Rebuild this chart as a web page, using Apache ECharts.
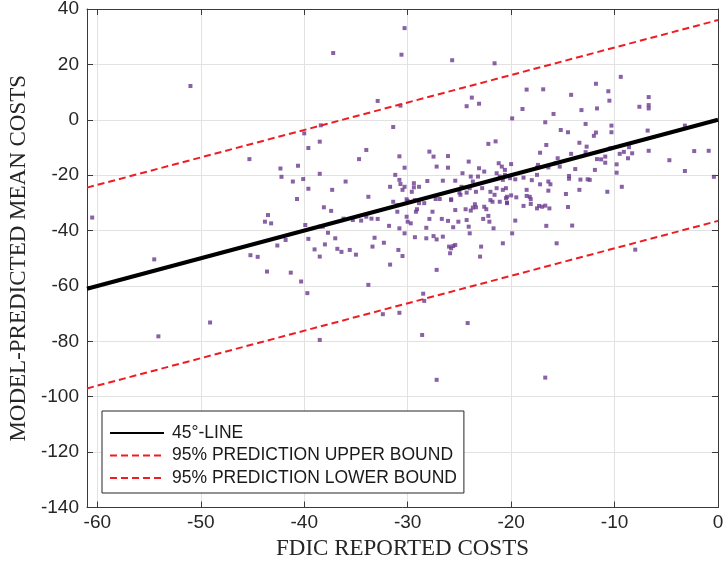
<!DOCTYPE html>
<html><head><meta charset="utf-8">
<script src="https://cdn.jsdelivr.net/npm/echarts@6/dist/echarts.min.js"></script>
<style>html,body{margin:0;padding:0;background:#fff}#c{width:725px;height:564px}</style>
</head><body><div id="c"></div>
<script>
// FDIC reported costs (x) and model-predicted mean costs (y)
const reportedCosts = [
-51.0,-45.3,-42.3,-42.2,-41.1,-40.6,-40.7,
-30.3,-37.2,-30.6,-25.7,-21.6,-32.9,-30.7,-24.3,-23.8,-23.1,-31.4,-38.4,-40.0,-39.6,-38.5,-40.1,-39.6,-38.5,-37.3,-36.0,-34.7,-34.0,-33.8,
-30.8,-30.3,-31.2,-30.8,-30.7,-30.3,-31.7,-30.1,-29.4,-29.4,-28.9,-28.1,-27.9,-27.5,-27.2,-26.1,-26.1,-26.6,-25.4,-24.1,-24.7,-24.8,-25.0,-25.8,
-23.9,-23.7,-23.1,-23.2,-22.6,-24.0,-24.3,-23.4,-22.8,-22.2,-21.5,-21.2,-20.9,-21.4,-20.8,-22.0,-21.6,-20.5,
-9.4,-11.8,-10.6,-10.5,-18.5,-16.9,-14.2,-18.9,-13.2,-11.7,-15.9,-7.6,-6.7,-6.7,-6.7,-19.9,-16.7,-12.8,-15.2,-14.5,-10.3,-10.3,-11.8,-12.0,
-6.8,-3.2,-16.6,-17.2,-13.4,-12.7,-12.8,-14.2,-15.5,-15.7,-11.7,-11.3,-10.9,-10.9,-10.4,-9.5,-9.1,-8.6,-8.3,-8.7,-6.7,-4.7,-2.3,-0.9,-3.2,-0.4,
-9.8,-9.8,-9.3,-10.7,-11.9,-13.8,-15.3,-16.4,-17.4,-17.5,-17.5,-14.4,-14.4,-13.3,-12.6,-12.4,-18.0,-17.2,-16.4,-16.2,-18.8,-20.0,
-20.6,-21.1,-20.6,-20.1,-19.6,-20.8,-18.5,-16.4,-14.7,-13.4,-20.0,-19.5,-18.2,
-60.5,-54.5,-54.1,-49.1,-45.2,-44.5,-43.8,-43.5,-43.2,-42.6,-41.8,-43.6,-41.3,
-38.1,-37.4,-39.9,-38.5,-38.2,-39.6,-37.7,-37.0,-38.0,-39.0,-38.5,-36.8,-36.4,-35.6,-35.0,-36.2,-35.3,-34.5,-34.0,-33.5,-32.9,-33.2,-33.4,-32.3,
-31.8,-31.4,-31.0,-31.0,-30.8,-30.3,-30.1,-30.0,-30.0,-29.7,-30.5,-29.3,-29.2,-29.1,-28.9,-28.4,-28.2,-28.2,-27.9,-27.6,-27.5,-27.2,-27.3,-26.9,
-26.6,-26.7,-26.1,-25.8,-25.6,-26.0,-25.8,-25.6,-25.9,-25.4,-25.4,-25.1,-24.9,-24.4,-24.3,-24.1,-24.0,-23.9,-23.7,-23.5,-23.4,-22.9,-23.0,
-22.7,-22.6,-22.4,-22.2,-22.1,-22.0,-21.8,-21.7,-21.4,-21.1,-20.8,-20.5,-20.4,-29.6,-29.3,-30.5,
-40.3,-39.7,-38.5,-33.8,-32.4,-30.8,-31.7,-30.9,-28.5,-28.4,-28.6,-27.2,-27.2,-24.2,
-19.9,-19.6,-16.6,-15.6,-14.1,-14.5,-18.8,-18.1,-18.1,-17.5,-17.3,-17.0,-16.7,-16.3,-18.5,-20.4,-20.4,-8.0,-16.7
];
const predictedCosts = [
12.2,-14.2,-17.6,-20.6,-22.3,-16.6,-28.6,
33.1,24.1,23.5,21.5,20.4,6.8,5.1,4.9,8.0,5.8,-2.6,-2.0,-4.9,-10.2,-7.9,-21.4,-24.9,-19.5,-25.3,-22.3,-14.2,-10.9,-27.8,
-13.2,-17.3,-19.9,-21.7,-23.2,-24.2,-24.2,-28.7,-22.9,-24.4,-24.2,-22.1,-11.5,-13.3,-16.9,-13.1,-17.3,-22.0,-22.0,-15.1,-19.3,-24.2,-26.3,-28.7,
-20.5,-22.3,-17.5,-20.5,-18.7,-24.7,-26.3,-26.0,-24.7,-8.7,-7.8,-15.7,-16.9,-19.3,-21.7,-26.0,-27.1,-24.7,
15.5,13.0,10.3,6.9,10.9,11.0,9.0,3.9,3.5,4.1,2.1,4.7,8.2,5.3,4.1,0.5,-0.9,-1.5,-3.7,-4.5,-2.1,-4.5,-4.6,-5.8,
-3.9,-2.1,-9.1,-11.9,-8.3,-9.7,-11.7,-12.3,-13.9,-15.7,-14.2,-14.3,-13.3,-15.5,-10.3,-12.3,-11.6,-9.9,-12.1,-13.9,-11.2,-14.6,-11.3,-11.2,-18.5,-20.6,
-16.1,-19.1,-24.2,-26.0,-18.1,-17.8,-16.9,-17.2,-16.3,-17.3,-19.9,-20.3,-21.3,-21.6,-21.5,-21.7,-21.8,-23.3,-22.3,-23.3,-20.9,-16.0,
-18.1,-20.5,-19.9,-21.1,-21.5,-25.3,-25.3,-25.6,-26.8,-25.3,-27.3,-28.0,-27.8,
-35.3,-50.4,-78.2,-73.2,-48.9,-49.5,-36.8,-34.4,-37.4,-45.4,-43.4,-54.8,-55.2,
-31.6,-32.9,-38.0,-38.6,-38.6,-43.0,-40.8,-42.8,-45.0,-46.8,-49.4,-46.6,-47.7,-47.0,-48.7,-35.7,-36.2,-36.4,-35.0,-35.7,-35.8,-42.6,-45.8,-44.4,
-38.3,-29.6,-30.8,-33.2,-39.2,-41.0,-35.0,-29.3,-36.8,-37.4,-49.2,-42.4,-33.2,-32.3,-30.1,-30.1,-42.8,-39.0,-35.8,-33.2,-42.0,-43.2,-28.6,-28.6,
-42.2,-35.8,-36.5,-29.0,-38.8,-45.8,-46.4,-45.6,-48.2,-45.2,-32.6,-36.8,-27.1,-32.3,-36.2,-38.6,-41.0,-32.8,-31.7,-30.5,-31.6,-45.8,-49.4,
-35.8,-31.4,-32.3,-34.7,-36.8,-29.0,-29.6,-39.2,-24.7,-29.6,-44.6,-28.3,-30.1,-26.0,-29.0,-25.3,
-58.4,-62.6,-79.5,-59.6,-70.2,-69.7,-52.3,-47.0,-62.8,-65.4,-77.7,-54.2,-93.9,-73.4,
-41.0,-36.4,-38.3,-44.6,-38.2,-31.5,-31.1,-28.7,-30.4,-32.0,-31.1,-31.4,-31.0,-32.0,-27.5,-27.8,-29.9,-46.9,-93.1
];
const xTicks = [-60, -50, -40, -30, -20, -10, 0];
const lineX = [-61, 0];
const diagY = [-61, 0];
const upperY = [-24.5, 36];
const lowerY = [-97, -36.5];
const seriesNames = ['45°-LINE', '95% PREDICTION UPPER BOUND', '95% PREDICTION LOWER BOUND'];

const sans = '"Liberation Sans", Arial, Helvetica, sans-serif';
const serif = '"Liberation Serif", "Times New Roman", serif';
const axisColor = '#3a3a3a';
const gridColor = '#e2e2e2';

const chart = echarts.init(document.getElementById('c'), null, {renderer: 'canvas'});
const pts = reportedCosts.map((x, i) => [x, predictedCosts[i]]);
const mk = ys => lineX.map((x, i) => [x, ys[i]]);

function xAx(pos, main) {
  return {
    type: 'value', min: -61, max: 0, position: pos,
    axisLine: {show: true, onZero: false, lineStyle: {color: axisColor, width: 1}},
    axisTick: {show: true, inside: true, length: 6, customValues: xTicks, lineStyle: {color: axisColor}},
    axisLabel: main ? {show: true, customValues: xTicks, fontSize: 19, color: '#262626', fontFamily: sans, margin: 6} : {show: false},
    splitLine: {show: main, lineStyle: {color: gridColor, width: 1}},
    name: main ? 'FDIC REPORTED COSTS' : '',
    nameLocation: 'middle', nameGap: 30,
    nameTextStyle: {fontFamily: serif, fontSize: 23, color: '#262626'}
  };
}
function yAx(pos, main) {
  return {
    type: 'value', min: -140, max: 40, interval: 20, position: pos,
    axisLine: {show: true, onZero: false, lineStyle: {color: axisColor, width: 1}},
    axisTick: {show: true, inside: true, length: 6, lineStyle: {color: axisColor}},
    axisLabel: main ? {show: true, fontSize: 19, color: '#262626', fontFamily: sans, margin: 8} : {show: false},
    splitLine: {show: main, lineStyle: {color: gridColor, width: 1}},
    name: main ? 'MODEL-PREDICTED MEAN COSTS' : '',
    nameLocation: 'middle', nameGap: 50,
    nameTextStyle: {fontFamily: serif, fontSize: 23, color: '#262626'}
  };
}

chart.setOption({
  animation: false,
  backgroundColor: '#ffffff',
  grid: {left: 87, right: 7, top: 9, bottom: 56.5, containLabel: false, outerBoundsMode: 'none'},
  xAxis: [xAx('bottom', true), xAx('top', false)],
  yAxis: [yAx('left', true), yAx('right', false)],
  legend: {
    data: seriesNames,
    orient: 'vertical', left: 102, top: 411,
    backgroundColor: '#ffffff', borderColor: '#262626', borderWidth: 1, borderRadius: 0,
    padding: [13, 7, 6, 7], itemWidth: 54, itemHeight: 14, itemGap: 4.5,
    itemStyle: {opacity: 0},
    textStyle: {fontFamily: sans, fontSize: 17.5, lineHeight: 16, color: '#1a1a1a', padding: [0, 0, 0, 3]},
    selectedMode: false
  },
  series: [
    {type: 'scatter', name: 'banks', data: pts, symbol: 'rect', symbolSize: 4,
     itemStyle: {color: '#6c3b8e'}, z: 2, silent: true},
    {type: 'line', name: seriesNames[0], data: mk(diagY), symbol: 'none', itemStyle: {color: '#000000'},
     lineStyle: {color: '#000000', width: 4}, z: 3},
    {type: 'line', name: seriesNames[1], data: mk(upperY), symbol: 'none', itemStyle: {color: '#ee1d23'},
     lineStyle: {color: '#ee1d23', width: 2, type: [7, 4]}, z: 3},
    {type: 'line', name: seriesNames[2], data: mk(lowerY), symbol: 'none', itemStyle: {color: '#ee1d23'},
     lineStyle: {color: '#ee1d23', width: 2, type: [7, 4]}, z: 3}
  ]
});
</script></body></html>
